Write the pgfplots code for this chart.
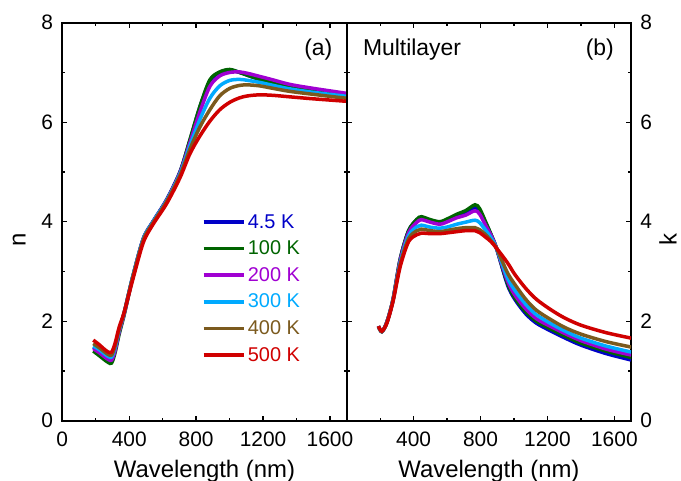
\documentclass[border=0pt]{standalone}
\usepackage{fontspec}
\setmainfont{Liberation Sans}
\usepackage{pgfplots}
\usepackage{pgfplotstable}
\pgfplotsset{compat=1.18}
\definecolor{cB}{RGB}{0,0,200}
\definecolor{cG}{RGB}{0,100,0}
\definecolor{cP}{RGB}{160,0,210}
\definecolor{cC}{RGB}{0,170,255}
\definecolor{cO}{RGB}{123,90,30}
\definecolor{cR}{RGB}{208,0,0}

\pgfplotstableread{
lam b g p c o r
185 1.48 1.40 1.45 1.50 1.55 1.62
220 1.40 1.31 1.37 1.43 1.47 1.53
250 1.31 1.23 1.29 1.35 1.39 1.44
275 1.25 1.17 1.23 1.29 1.33 1.38
295 1.24 1.16 1.22 1.28 1.32 1.38
315 1.42 1.36 1.40 1.46 1.50 1.55
340 1.80 1.74 1.78 1.82 1.84 1.88
370 2.17 2.13 2.15 2.17 2.18 2.18
420 2.88 2.86 2.87 2.88 2.87 2.82
484 3.66 3.65 3.65 3.65 3.63 3.58
543 4.01 4.00 4.00 4.00 3.98 3.95
623 4.44 4.43 4.43 4.42 4.40 4.36
703 5.00 4.99 4.98 4.96 4.93 4.88
762 5.62 5.64 5.58 5.52 5.45 5.36
822 6.30 6.31 6.20 6.05 5.90 5.72
882 6.83 6.85 6.72 6.48 6.25 6.02
941 7.00 7.01 6.93 6.73 6.53 6.25
1001 7.05 7.06 7.00 6.84 6.68 6.40
1060 7.00 7.00 7.01 6.86 6.74 6.49
1110 6.94 6.94 6.98 6.84 6.75 6.53
1180 6.86 6.86 6.92 6.80 6.73 6.55
1260 6.79 6.79 6.85 6.74 6.68 6.54
1360 6.70 6.71 6.76 6.67 6.62 6.51
1500 6.61 6.62 6.68 6.60 6.56 6.47
1700 6.50 6.52 6.58 6.52 6.48 6.42
}\ntable

\pgfplotstableread{
lam b g p c o r
190 1.90 1.89 1.90 1.90 1.90 1.90
210 1.79 1.79 1.79 1.79 1.79 1.80
240 1.98 1.98 1.98 1.97 1.97 1.96
277 2.44 2.44 2.43 2.42 2.42 2.40
320 3.25 3.25 3.22 3.18 3.15 3.10
370 3.82 3.82 3.78 3.72 3.66 3.60
420 4.04 4.05 3.99 3.90 3.82 3.74
447 4.08 4.10 4.04 3.93 3.85 3.77
500 4.03 4.04 3.99 3.89 3.82 3.76
558 3.99 4.00 3.95 3.87 3.80 3.76
610 4.05 4.07 4.01 3.90 3.83 3.78
658 4.12 4.15 4.08 3.95 3.86 3.80
710 4.18 4.22 4.13 3.99 3.88 3.82
767 4.28 4.34 4.22 4.03 3.88 3.82
795 4.20 4.26 4.15 3.98 3.84 3.78
830 3.98 4.00 3.93 3.83 3.74 3.69
862 3.74 3.75 3.73 3.68 3.62 3.60
895 3.47 3.47 3.47 3.47 3.47 3.47
960 2.74 2.77 2.82 2.88 2.98 3.18
1005 2.44 2.47 2.53 2.62 2.74 2.94
1070 2.15 2.19 2.25 2.34 2.44 2.66
1134 1.96 2.00 2.05 2.13 2.22 2.44
1216 1.81 1.85 1.90 1.96 2.04 2.24
1300 1.67 1.71 1.76 1.81 1.88 2.07
1400 1.52 1.56 1.61 1.66 1.74 1.92
1550 1.35 1.40 1.44 1.50 1.59 1.77
1700 1.22 1.27 1.32 1.38 1.48 1.66
}\ktable

\pgfplotsset{
  panel/.style={
    scale only axis,
    width=284.4bp, height=398bp,
    xmin=0, xmax=1700, ymin=0, ymax=8,
    ytick={0,2,4,6,8},
    minor ytick={1,3,5,7},
    minor xtick={200,600,1000,1400},
    tick align=inside,
    major tick length=5bp,
    minor tick length=3bp,
    axis line style={line width=1.6bp},
    every tick/.style={black, line width=1.3bp},
    font=\fontsize{24}{28}\selectfont,
    tick label style={font=\fontsize{21}{24}\selectfont, inner sep=1bp},
    xticklabel style={anchor=north, yshift=-10bp},
    /pgf/number format/assume math mode=true,
    /pgf/number format/1000 sep={},
    xlabel={Wavelength (nm)},
    xlabel style={at={(rel axis cs:0.5,0)}, anchor=base, yshift=-56.3bp, inner sep=1bp},
    every axis plot/.append style={line width=3.5bp, smooth},
  },
}

\begin{document}
\begin{tikzpicture}
\useasboundingbox (0,0) rectangle (681bp,481bp);
\begin{axis}[panel,
  at={(62.3bp,60.3bp)}, anchor=south west,
  xtick={0,400,800,1200,1600},
  yticklabel style={xshift=-8bp},
  ylabel={n},
  ylabel style={at={(rel axis cs:-0.152,0.454)}, anchor=center},
  legend style={draw=none, fill=none, at={(rel axis cs:0.49,0.525)}, anchor=north west,
    font=\fontsize{20}{22}\selectfont, row sep=6.2bp, inner sep=0pt,
    nodes={inner sep=2.5bp}},
  legend cell align=left,
  legend image code/.code={\draw[#1] (0bp,0bp) -- (40bp,0bp);},
]
\addplot[cB] table[x=lam,y=b] {\ntable};
\addlegendentry{\textcolor{cB}{4.5 K}}
\addplot[cG] table[x=lam,y=g] {\ntable};
\addlegendentry{\textcolor{cG}{100 K}}
\addplot[cP] table[x=lam,y=p] {\ntable};
\addlegendentry{\textcolor{cP}{200 K}}
\addplot[cC] table[x=lam,y=c] {\ntable};
\addlegendentry{\textcolor{cC}{300 K}}
\addplot[cO] table[x=lam,y=o] {\ntable};
\addlegendentry{\textcolor{cO}{400 K}}
\addplot[cR] table[x=lam,y=r] {\ntable};
\addlegendentry{\textcolor{cR}{500 K}}
\node[anchor=center, font=\fontsize{23}{26}\selectfont] at (rel axis cs:0.9,0.932) {(a)};
\end{axis}
\begin{axis}[panel,
  at={(346.7bp,60.3bp)}, anchor=south west,
  xtick={400,800,1200,1600},
  yticklabel pos=right,
  yticklabel style={xshift=8bp},
  ylabel={k},
  ylabel style={at={(rel axis cs:1.13,0.454)}, anchor=center},
]
\addplot[cB] table[x=lam,y=b] {\ktable};
\addplot[cG] table[x=lam,y=g] {\ktable};
\addplot[cP] table[x=lam,y=p] {\ktable};
\addplot[cC] table[x=lam,y=c] {\ktable};
\addplot[cO] table[x=lam,y=o] {\ktable};
\addplot[cR] table[x=lam,y=r] {\ktable};
\node[anchor=west, font=\fontsize{23}{26}\selectfont] at (rel axis cs:0.045,0.932) {Multilayer};
\node[anchor=center, font=\fontsize{23}{26}\selectfont] at (rel axis cs:0.89,0.932) {(b)};
\end{axis}
\end{tikzpicture}
\end{document}
